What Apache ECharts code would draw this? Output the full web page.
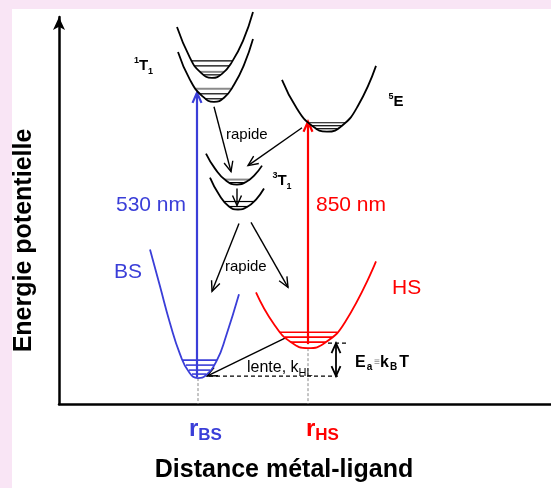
<!DOCTYPE html>
<html>
<head>
<meta charset="utf-8">
<script src="https://cdn.jsdelivr.net/npm/echarts@6/dist/echarts.min.js"></script>
<style>
html, body { margin: 0; padding: 0; background: #fff; }
#chart { width: 551px; height: 488px; }
</style>
</head>
<body>
<div id="chart"></div>
<script>
var ink = '#000', blue = '#3a3ed8', red = '#ff0000', grey = '#8a8a8a';
var font = '"Liberation Sans", Arial, Helvetica, sans-serif';

// potential wells, [distance, energy] points
var curve1T1Up = [[118, 378], [131, 347], [141, 333], [153, 327], [163, 331], [173, 343], [184, 364], [194, 393]];
var curve1T1Low = [[119, 353], [131, 325], [143, 309], [155, 303], [165, 307], [175, 320], [185, 340], [194, 366]];
var curve3T1Up = [[147, 251], [156, 236], [167, 224], [178, 220], [187, 222.5], [196, 230], [203, 239]];
var curve3T1Low = [[151, 227], [160, 210], [170, 198], [179, 195], [188, 197.5], [197, 205], [205, 216]];
var curve5E = [[223, 325], [238, 296], [253, 279], [268, 273], [283, 279], [299, 299], [317, 339]];
var curveBS = [[91, 155], [101, 118], [111, 81], [121, 50], [130, 32], [139, 26], [147, 29], [158, 44], [167, 68], [180, 110]];
var curveHS = [[197, 112], [215, 80], [232, 62], [249, 56], [266, 61.4], [286, 82], [317, 143]];

// vibrational levels [from, to, energy]
var levelsBlack = [[133, 174, 344], [136, 170, 339], [144.5, 162, 330], [141, 169, 311], [146, 163, 306],
                   [170, 186, 222], [165, 195, 203], [170, 189, 198], [249, 286, 282], [253, 283, 279], [257, 278, 276]];
var levelsGrey = [[141, 165, 333], [137, 173, 316], [166, 191, 225]];
var levelsBS = [[123, 158, 44], [127, 155, 39], [130, 151, 34], [133, 147, 30]];
var levelsHS = [[221, 278, 72], [226, 273, 67], [232, 267, 62]];

// transitions [from r, from E, to r, to E]
var arrowsBlack = [[155, 298, 172, 233], [243, 277, 189, 239], [178, 216, 178, 199],
                   [180, 181, 153, 113], [192, 182, 229, 117], [226, 66, 148, 28]];
var arrowBS = [[138, 27, 138, 312]];
var arrowHS = [[249, 60, 249, 283]];
var arrowEa = [[277, 61, 277, 28]];

var dashGrey = [[139, 26, 139, 0], [249, 56, 249, 0]];
var dashBlack = [[150, 28, 279, 28], [269, 61, 289, 61]];

// annotations [r, E, text, align]
var notes = [
    [84.5, 339, '{s15|1}{t15|T}{b15|1}', 'center'],
    [223, 223.5, '{s15|3}{t15|T}{b15|1}', 'center'],
    [337, 302.5, '{s15|5}{t15|E}', 'center'],
    [167, 269.5, '{rp|rapide}', 'left'],
    [166, 137, '{rp|rapide}', 'left'],
    [57, 199.5, '{nb|530 nm}', 'left'],
    [257, 199.5, '{nh|850 nm}', 'left'],
    [55, 132.5, '{nb|BS}', 'left'],
    [333, 116, '{nh|HS}', 'left'],
    [188, 36, '{l|lente, k}{lb|HL}', 'left'],
    [296, 42, '{e|E}{eb|a}{eq|≡}{e|k}{eb|B}{e|T}', 'left'],
    [130, -25, '{rb|r}{rbs|BS}', 'left'],
    [247, -25, '{rh|r}{rhs|HS}', 'left']
];

var rich = {
    t15: { fontSize: 15, fontWeight: 'bold', fontFamily: font, fill: ink, lineHeight: 20 },
    s15: { fontSize: 9, fontWeight: 'bold', fontFamily: font, fill: ink, lineHeight: 10, verticalAlign: 'top' },
    b15: { fontSize: 9, fontWeight: 'bold', fontFamily: font, fill: ink, lineHeight: 10, verticalAlign: 'bottom' },
    rp: { fontSize: 15, fontFamily: font, fill: ink, lineHeight: 20 },
    nb: { fontSize: 21, fontFamily: font, fill: blue, lineHeight: 24 },
    nh: { fontSize: 21, fontFamily: font, fill: red, lineHeight: 24 },
    l: { fontSize: 16, fontFamily: font, fill: ink, lineHeight: 20 },
    lb: { fontSize: 11, fontFamily: font, fill: ink, lineHeight: 10, verticalAlign: 'bottom' },
    e: { fontSize: 16, fontWeight: 'bold', fontFamily: font, fill: ink, lineHeight: 20 },
    eb: { fontSize: 10, fontWeight: 'bold', fontFamily: font, fill: ink, lineHeight: 12, verticalAlign: 'bottom', padding: [0, 2, 0, 1] },
    eq: { fontSize: 10, fontFamily: font, fill: grey, lineHeight: 20 },
    rb: { fontSize: 24, fontWeight: 'bold', fontFamily: font, fill: blue, lineHeight: 30 },
    rbs: { fontSize: 17, fontWeight: 'bold', fontFamily: font, fill: blue, lineHeight: 11, verticalAlign: 'bottom' },
    rh: { fontSize: 24, fontWeight: 'bold', fontFamily: font, fill: red, lineHeight: 30 },
    rhs: { fontSize: 17, fontWeight: 'bold', fontFamily: font, fill: red, lineHeight: 11, verticalAlign: 'bottom' }
};

function well(data, color) {
    return {
        type: 'line', data: data, smooth: true, symbol: 'none', clip: false, silent: true,
        lineStyle: { color: color, width: 1.8 }
    };
}

function levels(data, color, width) {
    return {
        type: 'custom', data: data, silent: true, encode: { x: [0, 1], y: 2 },
        renderItem: function (params, api) {
            var a = api.coord([api.value(0), api.value(2)]);
            var b = api.coord([api.value(1), api.value(2)]);
            return { type: 'line', shape: { x1: a[0], y1: a[1], x2: b[0], y2: b[1] },
                     style: { stroke: color, lineWidth: width } };
        }
    };
}

function head(p, ang, color, width) {
    var len = 11, spread = 0.42;
    return {
        type: 'polyline',
        shape: { points: [
            [p[0] - len * Math.cos(ang - spread), p[1] - len * Math.sin(ang - spread)],
            [p[0], p[1]],
            [p[0] - len * Math.cos(ang + spread), p[1] - len * Math.sin(ang + spread)]
        ] },
        style: { stroke: color, lineWidth: width, fill: 'none' }
    };
}

function segments(data, color, width, opts) {
    opts = opts || {};
    return {
        type: 'custom', data: data, silent: true, encode: { x: [0, 2], y: [1, 3] },
        renderItem: function (params, api) {
            var a = api.coord([api.value(0), api.value(1)]);
            var b = api.coord([api.value(2), api.value(3)]);
            var ang = Math.atan2(b[1] - a[1], b[0] - a[0]);
            var kids = [{ type: 'line', shape: { x1: a[0], y1: a[1], x2: b[0], y2: b[1] },
                          style: { stroke: color, lineWidth: width, lineDash: opts.dash || null } }];
            if (opts.arrow) kids.push(head(b, ang, color, width));
            if (opts.both) kids.push(head(a, ang + Math.PI, color, width));
            return { type: 'group', children: kids };
        }
    };
}

var chart = echarts.init(document.getElementById('chart'));
chart.setOption({
    animation: false,
    backgroundColor: '#fff',
    graphic: [
        { type: 'rect', left: 0, top: 0, shape: { width: 551, height: 9 }, style: { fill: '#f9e5f5' }, z: -100 },
        { type: 'rect', left: 0, top: 0, shape: { width: 12, height: 488 }, style: { fill: '#f9e5f5' }, z: -100 }
    ],
    grid: { left: 59, right: 0, top: 17, bottom: 83 },
    xAxis: {
        type: 'value', min: 0, max: 492,
        axisLine: { show: true, lineStyle: { color: ink, width: 2.5 } },
        axisTick: { show: false }, axisLabel: { show: false }, splitLine: { show: false },
        name: 'Distance métal-ligand', nameLocation: 'middle', nameGap: 54,
        nameTextStyle: { color: ink, fontSize: 25, fontWeight: 'bold', fontFamily: font, padding: [0, 42, 0, 0] }
    },
    yAxis: {
        type: 'value', min: 0, max: 388,
        axisLine: { show: true, symbol: ['none', 'arrow'], symbolSize: [9, 13], lineStyle: { color: ink, width: 2.5 } },
        axisTick: { show: false }, axisLabel: { show: false }, splitLine: { show: false },
        name: 'Energie potentielle', nameLocation: 'middle', nameGap: 22, nameRotate: 90,
        nameTextStyle: { color: ink, fontSize: 25, fontWeight: 'bold', fontFamily: font, padding: [0, 60, 0, 0] }
    },
    series: [
        well(curve1T1Up, ink), well(curve1T1Low, ink), well(curve3T1Up, ink), well(curve3T1Low, ink),
        well(curve5E, ink), well(curveBS, blue), well(curveHS, red),
        levels(levelsBlack, ink, 1.2), levels(levelsGrey, grey, 2), levels(levelsBS, blue, 1.6), levels(levelsHS, red, 1.6),
        segments(dashGrey, grey, 1, { dash: [3, 2] }),
        segments(dashBlack, ink, 1.3, { dash: [4, 3] }),
        segments(arrowsBlack, ink, 1.4, { arrow: true }),
        segments(arrowBS, blue, 2.2, { arrow: true }),
        segments(arrowHS, red, 2.2, { arrow: true }),
        segments(arrowEa, ink, 1.8, { arrow: true, both: true }),
        {
            type: 'custom', silent: true, encode: { x: 0, y: 1 },
            data: notes.map(function (n) { return [n[0], n[1]]; }),
            renderItem: function (params, api) {
                var n = notes[params.dataIndex];
                var p = api.coord([n[0], n[1]]);
                return { type: 'text', x: p[0], y: p[1],
                         style: { text: n[2], rich: rich, align: n[3], verticalAlign: 'middle', fill: ink } };
            }
        }
    ]
});
</script>
</body>
</html>
